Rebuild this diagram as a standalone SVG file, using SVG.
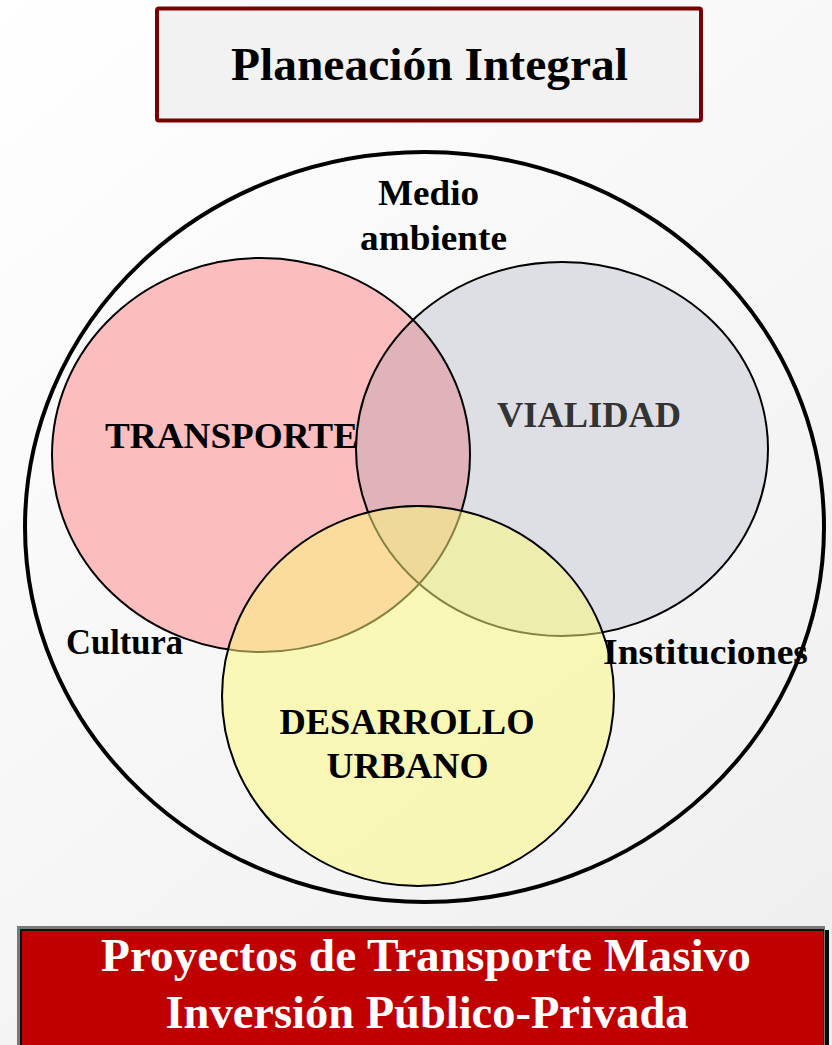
<svg xmlns="http://www.w3.org/2000/svg" xmlns:xlink="http://www.w3.org/1999/xlink" width="832" height="1045" viewBox="0 0 832 1045">
  <defs>
    <linearGradient id="bg" x1="0" y1="0" x2="832" y2="1045" gradientUnits="userSpaceOnUse">
      <stop offset="0" stop-color="#ffffff"/>
      <stop offset="1" stop-color="#eeeeee"/>
    </linearGradient>
    <ellipse id="eT" cx="261" cy="455" rx="209" ry="197"/>
    <ellipse id="eV" cx="562" cy="449" rx="206" ry="187"/>
    <ellipse id="eD" cx="418" cy="696" rx="196" ry="190"/>
    <clipPath id="clipT">
      <use xlink:href="#eT"/>
    </clipPath>
  </defs>
  <style>
    text { font-family: "Liberation Serif", "Times New Roman", serif; font-weight: bold; text-anchor: middle; }
    .mid { font-size: 35px; fill: #000; }
    .ring { fill: none; stroke: #000; stroke-width: 2; }
    .big { font-size: 46px; }
    .white { fill: #ffffff; }
  </style>

  <rect x="0" y="0" width="832" height="1045" fill="url(#bg)"/>

  <g id="node-title">
    <rect x="157" y="8.5" width="544" height="112" rx="2" fill="#f2f2f2" stroke="#780000" stroke-width="4"/>
    <text class="big" x="429.5" y="80" textLength="397" lengthAdjust="spacingAndGlyphs" fill="#000">Planeación Integral</text>
  </g>

  <g id="node-entorno">
    <ellipse cx="424.5" cy="527" rx="399.5" ry="375" fill="none" stroke="#000" stroke-width="4"/>
  </g>

  <g id="node-transporte">
    <use xlink:href="#eT" fill="#fbbdbe"/>
  </g>
  <g id="node-vialidad">
    <use xlink:href="#eV" fill="#dedfe4"/>
    <use xlink:href="#eV" fill="#e0b3bb" clip-path="url(#clipT)"/>
    <use xlink:href="#eT" class="ring" stroke="#111"/>
    <use xlink:href="#eV" class="ring" stroke="#111"/>
  </g>
  <g id="node-desarrollo">
    <use xlink:href="#eD" fill="#fcfa7c" fill-opacity="0.52" stroke="#000" stroke-width="2"/>
  </g>

  <g id="labels">
    <text class="mid" x="428.5" y="205" textLength="101" lengthAdjust="spacingAndGlyphs">Medio</text>
    <text class="mid" x="433.5" y="250" textLength="147" lengthAdjust="spacingAndGlyphs">ambiente</text>
    <text class="mid" x="231.5" y="448" textLength="253" lengthAdjust="spacingAndGlyphs">TRANSPORTE</text>
    <text class="mid" x="589" y="427" textLength="184" lengthAdjust="spacingAndGlyphs" style="fill:#333">VIALIDAD</text>
    <text class="mid" x="124.5" y="654" textLength="117" lengthAdjust="spacingAndGlyphs">Cultura</text>
    <text class="mid" x="705.5" y="664" textLength="205" lengthAdjust="spacingAndGlyphs">Instituciones</text>
    <text class="mid" x="407" y="734" textLength="255" lengthAdjust="spacingAndGlyphs">DESARROLLO</text>
    <text class="mid" x="407.5" y="778" textLength="162" lengthAdjust="spacingAndGlyphs">URBANO</text>
  </g>

  <g id="node-proyectos">
    <rect x="21" y="930" width="808" height="130" fill="#0a0a0a"/>
    <rect x="17" y="926" width="808" height="130" fill="#7a7a7a"/>
    <rect x="20" y="929" width="804" height="130" fill="#111"/>
    <rect x="22" y="931" width="801" height="130" fill="#c00000"/>
    <text class="big white" x="426" y="971" textLength="650" lengthAdjust="spacingAndGlyphs">Proyectos de Transporte Masivo</text>
    <text class="big white" x="427" y="1028" textLength="523" lengthAdjust="spacingAndGlyphs">Inversión Público-Privada</text>
  </g>
</svg>
